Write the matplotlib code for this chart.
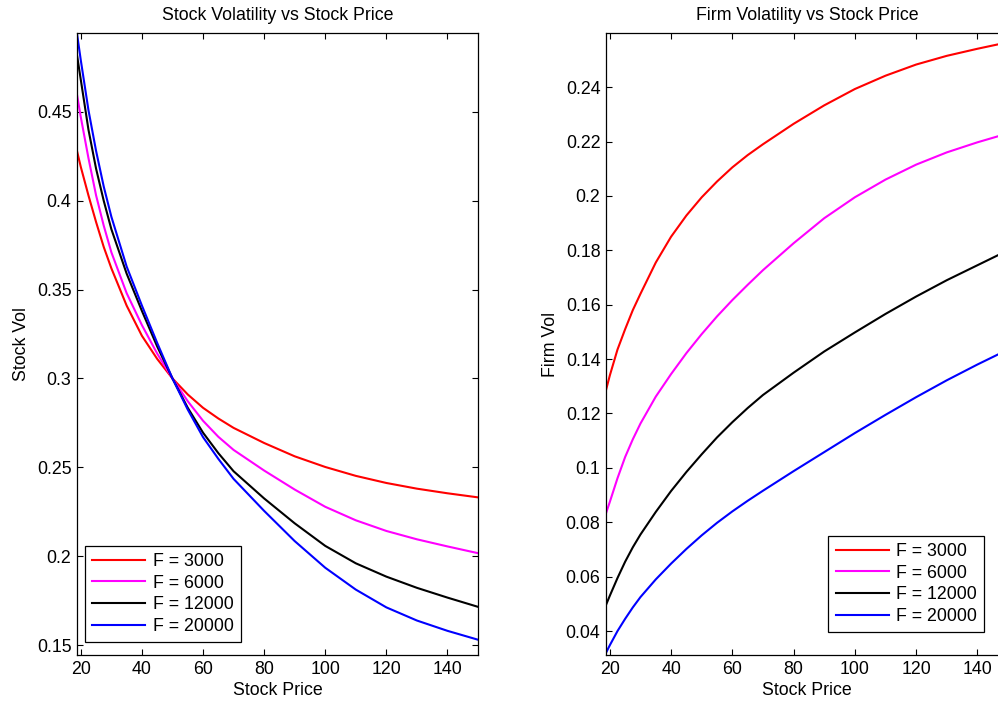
import matplotlib
matplotlib.use("Agg")
import matplotlib.pyplot as plt
from matplotlib.ticker import FuncFormatter

plt.rcParams['font.family'] = ['Liberation Sans', 'DejaVu Sans']
plt.rcParams['font.size'] = 12.8

# debt face values
labels = ["F = 3000", "F = 6000", "F = 12000", "F = 20000"]
colors = ["#ff0000", "#ff00ff", "#000000", "#0000ff"]

# stock price grid (both panels)
price = [18.75, 20, 22.5, 25, 27.5, 30, 35, 40, 45, 50, 55, 60, 65, 70, 80, 90, 100, 110, 120, 130, 140, 150]

# stock volatility per debt level
svol_3000 = [0.428, 0.419, 0.403, 0.388, 0.374, 0.362, 0.341, 0.324, 0.311, 0.300, 0.291, 0.2835,
             0.2775, 0.2722, 0.2637, 0.2562, 0.2502, 0.2452, 0.2412, 0.2380, 0.2354, 0.2331]
svol_6000 = [0.4597, 0.447, 0.424, 0.403, 0.386, 0.371, 0.348, 0.330, 0.314, 0.300, 0.2872, 0.2762,
             0.2672, 0.2598, 0.2482, 0.2375, 0.2278, 0.2202, 0.2142, 0.2095, 0.2055, 0.2017]
svol_12000 = [0.482, 0.468, 0.440, 0.418, 0.400, 0.384, 0.359, 0.338, 0.318, 0.300, 0.2835, 0.2695,
              0.2580, 0.2478, 0.2325, 0.2185, 0.2058, 0.1960, 0.1885, 0.1822, 0.1767, 0.1715]
svol_20000 = [0.494, 0.479, 0.451, 0.428, 0.408, 0.391, 0.363, 0.341, 0.320, 0.300, 0.2825, 0.2670,
              0.2548, 0.2435, 0.2255, 0.2085, 0.1935, 0.1812, 0.1712, 0.1638, 0.1580, 0.1530]

# implied firm volatility per debt level
fvol_3000 = [0.1286, 0.134, 0.1435, 0.151, 0.158, 0.164, 0.1755, 0.185, 0.1928, 0.1995, 0.2053,
             0.2105, 0.2150, 0.2190, 0.2265, 0.2333, 0.2393, 0.2442, 0.2483, 0.2515, 0.2541, 0.2565]
fvol_6000 = [0.0833, 0.0875, 0.0962, 0.104, 0.1105, 0.1163, 0.1262, 0.1345, 0.1422, 0.1492, 0.1557,
             0.1617, 0.1673, 0.1727, 0.1826, 0.1918, 0.1995, 0.2060, 0.2115, 0.2160, 0.2197, 0.2230]
fvol_12000 = [0.0496, 0.053, 0.0595, 0.0655, 0.0708, 0.0755, 0.0838, 0.0915, 0.0985, 0.1050, 0.1112,
              0.1168, 0.1220, 0.1268, 0.1350, 0.1428, 0.1498, 0.1566, 0.1630, 0.1690, 0.1745, 0.1800]
fvol_20000 = [0.032, 0.0348, 0.0400, 0.0445, 0.0487, 0.0525, 0.0590, 0.0648, 0.0702, 0.0752, 0.0798,
              0.0840, 0.0879, 0.0916, 0.0988, 0.1058, 0.1128, 0.1195, 0.1260, 0.1322, 0.1380, 0.1435]

svols = [svol_3000, svol_6000, svol_12000, svol_20000]
fvols = [fvol_3000, fvol_6000, fvol_12000, fvol_20000]

fig = plt.figure(figsize=(9.98, 7.04), dpi=100)
ax1 = fig.add_axes([77 / 998, 49 / 704, 401 / 998, 622 / 704])
ax2 = fig.add_axes([606 / 998, 49 / 704, 402 / 998, 622 / 704])

for c, lab, sv in zip(colors, labels, svols):
    ax1.plot(price, sv, color=c, lw=1.5, label=lab)
for c, lab, fv in zip(colors, labels, fvols):
    ax2.plot(price, fv, color=c, lw=1.5, label=lab)

fmt = FuncFormatter(lambda v, p: "%g" % round(v, 4))

ax1.set_xlim(18.75, 150)
ax1.set_ylim(0.1444, 0.4944)
ax1.set_xticks(range(20, 141, 20))
ax1.set_yticks([0.15, 0.2, 0.25, 0.3, 0.35, 0.4, 0.45])
ax1.yaxis.set_major_formatter(fmt)
ax1.set_title("Stock Volatility vs Stock Price", fontsize=12.8, pad=9)
ax1.set_xlabel("Stock Price", labelpad=3)
ax1.set_ylabel("Stock Vol", labelpad=5)

ax2.set_xlim(18.75, 150)
ax2.set_ylim(0.0312, 0.2599)
ax2.set_xticks(range(20, 141, 20))
ax2.set_yticks([0.04, 0.06, 0.08, 0.1, 0.12, 0.14, 0.16, 0.18, 0.2, 0.22, 0.24])
ax2.yaxis.set_major_formatter(fmt)
ax2.set_title("Firm Volatility vs Stock Price", fontsize=12.8, pad=9)
ax2.set_xlabel("Stock Price", labelpad=3)
ax2.set_ylabel("Firm Vol", labelpad=5)

for ax in (ax1, ax2):
    ax.tick_params(direction="in", length=4, width=0.8, top=True, right=True, labelsize=12.8, pad=4)
    for s in ax.spines.values():
        s.set_linewidth(0.9)

leg_kw = dict(frameon=True, fancybox=False, edgecolor="black", framealpha=1, handlelength=3.0,
              handletextpad=0.4, borderpad=0.4, labelspacing=0.26, fontsize=12.8, borderaxespad=0)
l1 = ax1.legend(loc="lower left", bbox_to_anchor=(8 / 401, 13 / 622), **leg_kw)
l2 = ax2.legend(loc="lower right", bbox_to_anchor=(378 / 402, 23 / 622), **leg_kw)
for l in (l1, l2):
    l.get_frame().set_linewidth(0.9)

fig.savefig("out.png", dpi=100)
